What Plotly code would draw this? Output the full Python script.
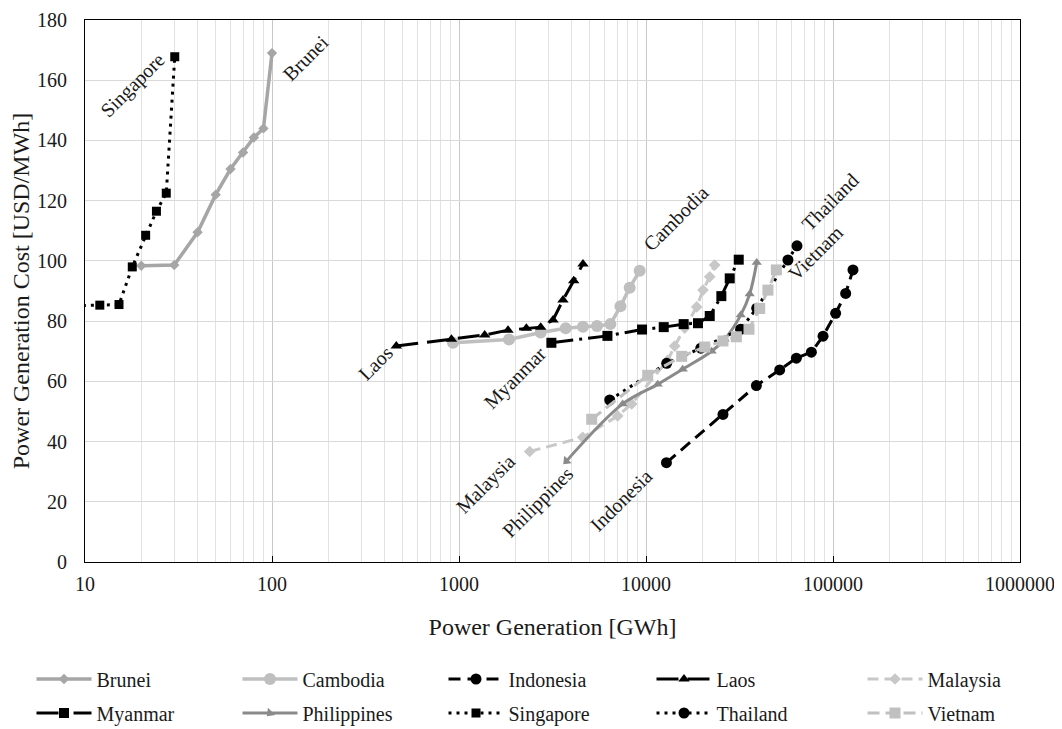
import plotly.graph_objects as go
import numpy as np

# ---- data ----
brunei_x = [20, 30, 40, 50, 60, 70, 80, 90, 100]
brunei_y = [98.4, 98.6, 109.5, 122, 130.5, 136, 141, 144, 169]

cambodia_x = [929, 1850, 2735, 3720, 4600, 5470, 6450, 7300, 8180, 9250]
cambodia_y = [72.8, 73.9, 76.2, 77.6, 78.1, 78.4, 79.0, 84.9, 91.1, 96.7]

indonesia_x = [12860, 25810, 38930, 51880, 63690, 76620, 88470, 103300, 116900, 127900]
indonesia_y = [33.0, 49.0, 58.6, 63.8, 67.7, 69.7, 75.0, 82.6, 89.2, 97.0]

laos_x = [462, 911, 1372, 1829, 2292, 2735, 3183, 3598, 4105, 4603]
laos_y = [71.7, 74.0, 75.4, 77.0, 77.6, 78.0, 80.4, 87.0, 93.4, 99.0]

malaysia_x = [2388, 4586, 7060, 8386, 13060, 14230, 16100, 18670, 20180, 21920, 23290]
malaysia_y = [36.7, 41.4, 48.5, 52.5, 67.0, 71.7, 77.7, 84.7, 90.3, 94.7, 98.6]

myanmar_x = [3119, 6220, 9525, 12440, 15900, 18970, 21920, 25290, 28040, 31330]
myanmar_y = [72.8, 75.1, 77.2, 78.0, 79.0, 79.3, 81.7, 88.3, 94.2, 100.4]

philippines_x = [3752, 7505, 11550, 15710, 22450, 26360, 32100, 35850, 39100]
philippines_y = [33.5, 52.5, 59.0, 64.0, 70.0, 74.0, 82.0, 89.0, 99.5]

singapore_x = [8, 12, 15.2, 17.9, 21.1, 24.1, 27.2, 30.2]
singapore_y = [85, 85.3, 85.5, 98.0, 108.5, 116.5, 122.5, 167.8]

thailand_x = [6398, 12900, 19630, 32070, 39090, 57430, 64170]
thailand_y = [53.8, 66.0, 71.0, 77.3, 84.3, 100.3, 105.0]

vietnam_x = [5125, 10210, 15520, 20610, 25810, 30420, 35540, 40550, 44880, 49790]
vietnam_y = [47.4, 62.0, 68.3, 71.4, 73.4, 74.8, 77.3, 84.2, 90.3, 97.0]

x_tickvals = [10, 100, 1000, 10000, 100000, 1000000]
x_ticktext = ["10", "100", "1000", "10000", "100000", "1000000"]
y_tickvals = [0, 20, 40, 60, 80, 100, 120, 140, 160, 180]

# country name labels: (text, x in GWh, y in USD/MWh)
labels = [
    ("Singapore", 17.9, 158.4), ("Brunei", 151, 167.5), ("Laos", 358, 66.1),
    ("Myanmar", 1986, 61.1), ("Cambodia", 14540, 114.1), ("Thailand", 96600, 119.4),
    ("Vietnam", 80640, 102.5), ("Malaysia", 1386, 25.8), ("Philippines", 2645, 19.8),
    ("Indonesia", 7386, 20.6),
]

FONT = "Liberation Serif, Times New Roman, serif"
TXT = "#1a1a1a"

# name, x, y, colour, dash, marker symbol, marker size, line shape, width
series = [
    ("Brunei", brunei_x, brunei_y, "#a6a6a6", "solid", "diamond", 8, "linear", 3.5),
    ("Cambodia", cambodia_x, cambodia_y, "#bfbfbf", "solid", "circle", 12, "linear", 3.5),
    ("Indonesia", indonesia_x, indonesia_y, "#000000", "12px,7px", "circle", 11, "linear", 3),
    ("Laos", laos_x, laos_y, "#000000", "22px,9px", "triangle-up", 10, "linear", 3),
    ("Malaysia", malaysia_x, malaysia_y, "#c8c8c8", "11px,6px", "diamond", 9, "linear", 3),
    ("Myanmar", myanmar_x, myanmar_y, "#000000", "22px,6px,3px,6px", "square", 10, "linear", 3),
    ("Philippines", philippines_x, philippines_y, "#8a8a8a", "solid", "triangle-up", 9, "spline", 3),
    ("Singapore", singapore_x, singapore_y, "#000000", "3px,5px", "square", 9, "linear", 3),
    ("Thailand", thailand_x, thailand_y, "#000000", "3px,5px", "circle", 11, "linear", 3),
    ("Vietnam", vietnam_x, vietnam_y, "#c0c0c0", "12px,6px", "square", 11, "linear", 3),
]

fig = go.Figure()
for i, (name, xs, ys, col, dash, sym, size, shape, lw) in enumerate(series):
    marker = dict(color=col, symbol=sym, size=size)
    if name == "Philippines":
        marker["angle"] = [225] + [0] * (len(xs) - 1)
    fig.add_trace(go.Scatter(
        x=xs, y=ys, name=name, mode="lines+markers",
        line=dict(color=col, width=lw, dash=dash, shape=shape),
        marker=marker,
        legend="legend" if i == 0 else f"legend{i + 1}",
    ))

for text, lx, ly in labels:
    fig.add_annotation(x=np.log10(lx), y=ly, xref="x", yref="y", text=text,
                       textangle=-45, showarrow=False,
                       font=dict(family=FONT, size=20, color=TXT))

# legend layout: 5 columns x 2 rows below the chart (positions relative to plot area)
PLOT_L, PLOT_W, PLOT_B, PLOT_H = 85, 935, 562, 542
col_text_px = [97, 303, 509, 717, 928]
row_px = [679, 713]
ITEMW = 55
legends = {}
for i in range(10):
    r, c = divmod(i, 5)
    key = "legend" if i == 0 else f"legend{i + 1}"
    legends[key] = dict(
        x=(col_text_px[c] - ITEMW - 10.5 - PLOT_L) / PLOT_W,
        y=(PLOT_B - row_px[r]) / PLOT_H,
        xanchor="left", yanchor="middle", orientation="h",
        itemwidth=ITEMW, bgcolor="rgba(0,0,0,0)",
        font=dict(family=FONT, size=20, color=TXT),
    )

# the page body adds an 8px margin on the top/left, so the figure is 8px smaller
fig.update_layout(
    width=1054, height=721,
    margin=dict(l=77, r=42, t=12, b=167, autoexpand=False),
    paper_bgcolor="white", plot_bgcolor="white",
    font=dict(family=FONT, size=20, color=TXT),
    showlegend=True,
    xaxis=dict(
        type="log", range=[1, 6], tickvals=x_tickvals, ticktext=x_ticktext,
        showline=True, linecolor="#000000", linewidth=1, mirror=True,
        ticks="inside", ticklen=6, tickcolor="#000000",
        showgrid=True, gridcolor="#c8c8c8", gridwidth=1,
        minor=dict(dtick="D1", showgrid=True, gridcolor="#e2e2e2", gridwidth=1, ticks=""),
        tickfont=dict(family=FONT, size=20, color=TXT),
        ticklabelstandoff=4, automargin=False,
        title=dict(text="Power Generation [GWh]", font=dict(family=FONT, size=24, color=TXT), standoff=24),
        zeroline=False,
    ),
    yaxis=dict(
        range=[0, 180], tickvals=y_tickvals,
        showline=True, linecolor="#000000", linewidth=1, mirror=True,
        showgrid=True, gridcolor="#d9d9d9", gridwidth=1,
        tickfont=dict(family=FONT, size=20, color=TXT),
        ticklabelstandoff=13, automargin=False,
        title=dict(text="Power Generation Cost [USD/MWh]", font=dict(family=FONT, size=24, color=TXT), standoff=6),
        zeroline=False,
    ),
    **legends,
)

fig.write_html("out.html")
